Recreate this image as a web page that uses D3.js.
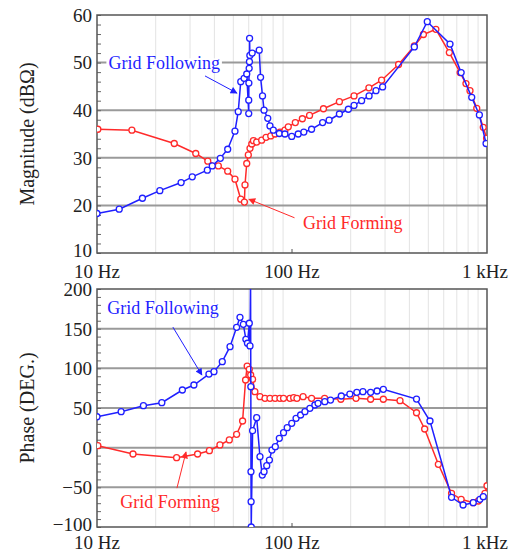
<!DOCTYPE html>
<html>
<head>
<meta charset="utf-8">
<script src="https://cdn.jsdelivr.net/npm/d3@7"></script>
<style>
  body { margin: 0; background: #fff; }
  text { font-family: "Liberation Serif", "Times New Roman", serif; }
</style>
</head>
<body>
<div class="chart"></div>
<script>
// Bode plot data (frequency in Hz)
var magFollowFreq = [10, 13.0, 17.1, 21.0, 27.0, 30.8, 36.8, 39.0, 42.9, 46.8, 51.0, 53.0, 54.6, 56.8, 58.6, 60.0, 60.0, 60.1, 60.3, 60.5, 60.6, 60.8, 62.5, 67.9, 69.0, 70.6, 71.9, 75.1, 77.1, 80.2, 86.1, 92.0, 99.7, 107.6, 115, 126, 143.6, 155, 175, 194.5, 208, 227.5, 248.5, 269.6, 291.5, 424, 494, 646, 737, 835, 914, 989];
var magFollow = [18.3, 19.2, 21.5, 23.1, 24.8, 26.0, 27.4, 28.3, 29.9, 31.8, 35.6, 39.7, 46.0, 46.7, 47.6, 39.3, 42.1, 45.7, 48.8, 50.2, 55.1, 51.5, 52.0, 52.6, 46.9, 43.0, 40.0, 38.3, 36.7, 35.8, 35.1, 35.0, 34.5, 35.0, 35.4, 36.0, 37.4, 37.9, 39.2, 40.2, 41.0, 42.0, 43.0, 44.1, 44.9, 53.3, 58.6, 53.9, 47.9, 42.7, 39.0, 33.0];

var magFormFreq = [10.1, 15.1, 24.9, 32.1, 37.0, 41.9, 46.8, 51.0, 54.6, 57.0, 57.4, 58.6, 59.7, 60.9, 62.2, 63.4, 65.9, 69.9, 73.6, 77.8, 81.9, 86.7, 92.0, 95.7, 104, 113, 123, 145, 175, 208, 248, 288, 352, 424, 472, 547, 641, 728, 780, 818, 886, 957, 995];
var magForm = [36.0, 35.8, 33.0, 30.9, 29.3, 28.3, 27.2, 25.5, 21.3, 20.7, 24.3, 28.8, 30.6, 32.0, 32.9, 33.6, 33.3, 33.7, 34.3, 34.6, 35.0, 35.4, 35.8, 36.5, 37.4, 38.2, 38.9, 40.3, 41.8, 43.0, 44.7, 46.3, 49.6, 53.5, 55.9, 57.0, 52.1, 47.9, 45.6, 44.1, 40.4, 36.4, 34.1];

var phFollowFreq = [10, 13.3, 17.3, 21.5, 27.4, 31.4, 37.5, 39.8, 43.9, 48.1, 52.0, 54.1, 56.3, 58.0, 59.1, 60.4, 60.9, 61.3, 61.5, 61.6, 61.7, 61.8, 62.8, 65.9, 68.5, 70.4, 71.9, 74.2, 76.6, 78.9, 82.1, 86.1, 90.5, 94.5, 99.7, 104.9, 110.7, 116.5, 123.5, 131, 136, 147.3, 157.6, 179, 198, 215, 231, 253, 273, 294, 435, 510, 658, 754, 850, 920, 957];
var phFollow = [39.0, 45.4, 52.9, 56.7, 72.7, 79.0, 92.8, 95.8, 108.4, 127.3, 151.7, 164.3, 155.5, 136.6, 131.6, 156.8, 128.2, 215, 76.9, -30.3, -68.1, -100, 21.4, 37.8, -11.4, -34.5, -30.3, -22.7, -15.6, -3.0, 1.2, 11.8, 18.9, 25.2, 30.7, 37.0, 41.2, 45.4, 49.6, 53.8, 55.9, 58.0, 60.0, 65.1, 67.6, 69.8, 70.6, 69.8, 71.4, 73.6, 61.3, 33.6, -62.6, -72.3, -69.4, -65.1, -61.8];

var phFormFreq = [10.1, 15.3, 25.6, 32.8, 37.7, 42.7, 47.7, 52.0, 55.8, 57.8, 58.9, 60.4, 61.4, 62.8, 64.5, 68.5, 72.7, 77.1, 81.9, 86.7, 90.5, 97.6, 102, 106, 114, 126, 147, 178, 213, 253, 294, 358, 435, 479, 563, 658, 737, 850, 903, 976, 1000];
var phForm = [2.5, -8.0, -12.6, -8.0, -3.8, 3.4, 9.7, 16.8, 33.6, 85.3, 102.8, 98.8, 91.6, 86.2, 70.6, 64.3, 62.2, 62.2, 62.2, 62.2, 62.2, 62.2, 63.0, 62.2, 64.3, 62.2, 62.2, 61.0, 62.2, 61.0, 61.0, 59.2, 44.0, 23.5, -21.0, -57.5, -65.1, -69.4, -67.2, -57.5, -48.0];

var magTicks = [10, 20, 30, 40, 50, 60];
var phaseTicks = [-100, -50, 0, 50, 100, 150, 200];
var freqTicks = [10, 100, 1000];
var freqLabels = ["10 Hz", "100 Hz", "1 kHz"];

var svgWidth = 517;
var svgHeight = 553;
var blue = "#1f1fff";
var red = "#ff2a2a";

var svg = d3.select(".chart")
  .append("svg")
  .attr("width", svgWidth)
  .attr("height", svgHeight);

var defs = svg.append("defs");
[["arrowBlue", blue], ["arrowRed", red]].forEach(function (m) {
  defs.append("marker")
    .attr("id", m[0])
    .attr("viewBox", "0 0 10 10")
    .attr("refX", 9)
    .attr("refY", 5)
    .attr("markerWidth", 9)
    .attr("markerHeight", 7)
    .attr("markerUnits", "userSpaceOnUse")
    .attr("orient", "auto")
    .append("path")
    .attr("d", "M0,0 L10,5 L0,10 z")
    .attr("fill", m[1]);
});

var xScale = d3.scaleLog().domain([10, 1000]).range([97, 487]);

function drawPanel(id, yScale, ticks, minorStep, title, labelGap, series, notes) {
  var top = yScale.range()[1], bottom = yScale.range()[0];
  var left = xScale.range()[0], right = xScale.range()[1];
  var g = svg.append("g");

  defs.append("clipPath").attr("id", id)
    .append("rect")
    .attr("x", left).attr("y", top)
    .attr("width", right - left).attr("height", bottom - top);

  // light vertical log grid
  var minor = [];
  [10, 100].forEach(function (d) {
    for (var k = 2; k < 10; k++) minor.push(d * k);
  });
  g.selectAll(".vgrid").data(minor).enter().append("line")
    .attr("x1", d => xScale(d)).attr("x2", d => xScale(d))
    .attr("y1", top).attr("y2", bottom)
    .attr("stroke", "#e3e3e3").attr("stroke-width", 1);

  // major horizontal grid
  g.selectAll(".hgrid").data(ticks.slice(1, -1)).enter().append("line")
    .attr("x1", left).attr("x2", right)
    .attr("y1", d => yScale(d)).attr("y2", d => yScale(d))
    .attr("stroke", "#9a9a9a").attr("stroke-width", 2);

  // small inward ticks on the left edge
  g.append("g")
    .attr("transform", `translate(${left},0)`)
    .call(d3.axisRight(yScale).ticks(Math.round((yScale.domain()[1] - yScale.domain()[0]) / minorStep)).tickSize(4).tickFormat(""))
    .call(a => a.select(".domain").remove())
    .selectAll("line").attr("stroke", "#666");

  // tick at 100 Hz
  g.append("line")
    .attr("x1", xScale(100)).attr("x2", xScale(100))
    .attr("y1", bottom).attr("y2", bottom - 4)
    .attr("stroke", "#555");

  // frame
  g.append("rect")
    .attr("x", left).attr("y", top)
    .attr("width", right - left).attr("height", bottom - top)
    .attr("fill", "none").attr("stroke", "#555").attr("stroke-width", 1.5);

  // y tick labels
  g.selectAll(".ylab").data(ticks).enter().append("text")
    .attr("x", left - 5).attr("y", d => yScale(d))
    .attr("dy", (d, i) => i == 0 ? "0.2em" : "0.36em")
    .attr("text-anchor", "end")
    .attr("font-size", 19)
    .attr("fill", "#222")
    .text(d => d < 0 ? "\u2212" + Math.abs(d) : d);

  // x tick labels
  g.selectAll(".xlab").data(freqTicks).enter().append("text")
    .attr("x", (d, i) => xScale(d) + (i == 2 ? -2 : 0)).attr("y", bottom + labelGap)
    .attr("text-anchor", "middle")
    .attr("font-size", 19)
    .attr("fill", "#222")
    .text((d, i) => freqLabels[i]);

  // axis title
  g.append("text")
    .attr("transform", `translate(${left - 70},${(top + bottom) / 2}) rotate(-90)`)
    .attr("dy", "0.35em")
    .attr("text-anchor", "middle")
    .attr("font-size", 20)
    .attr("fill", "#222")
    .text(title);

  // data
  var plot = g.append("g").attr("clip-path", `url(#${id})`);
  series.forEach(function (s) {
    var pts = s.freq.map((f, i) => [f, s.vals[i]]);
    plot.append("path")
      .datum(pts)
      .attr("fill", "none")
      .attr("stroke", s.color)
      .attr("stroke-width", 1.5)
      .attr("d", d3.line().x(d => xScale(d[0])).y(d => yScale(d[1])));
    plot.selectAll(null).data(pts).enter().append("circle")
      .attr("cx", d => xScale(d[0])).attr("cy", d => yScale(d[1]))
      .attr("r", 3)
      .attr("fill", "#fff")
      .attr("stroke", s.color)
      .attr("stroke-width", 1.3);
  });

  // annotations
  notes.forEach(function (n) {
    g.append("line")
      .attr("x1", xScale(n.from[0])).attr("y1", yScale(n.from[1]))
      .attr("x2", xScale(n.to[0])).attr("y2", yScale(n.to[1]))
      .attr("stroke", n.color).attr("stroke-width", 1)
      .attr("marker-end", `url(#${n.marker})`);
    var t = g.append("text")
      .attr("x", xScale(n.at[0])).attr("y", yScale(n.at[1]))
      .attr("dy", "0.35em")
      .attr("text-anchor", "middle")
      .attr("font-size", 18)
      .attr("fill", n.color)
      .text(n.label);
    var bb = t.node().getBBox();
    g.insert("rect", function () { return t.node(); })
      .attr("x", bb.x - 2).attr("y", bb.y + 5)
      .attr("width", bb.width + 4).attr("height", bb.height - 9)
      .attr("fill", "#fff");
  });
}

drawPanel("clipMag", d3.scaleLinear().domain([10, 60]).range([253, 15]), magTicks, 2, "Magnitude (dB\u03A9)", 25,
  [{ freq: magFormFreq, vals: magForm, color: red },
   { freq: magFollowFreq, vals: magFollow, color: blue }],
  [{ label: "Grid Following", at: [22.1, 49.9], from: [35.8, 47.2], to: [52.2, 43.6], color: blue, marker: "arrowBlue" },
   { label: "Grid Forming", at: [205, 16.4], from: [103, 17.4], to: [60.1, 21.3], color: red, marker: "arrowRed" }]);

drawPanel("clipPhase", d3.scaleLinear().domain([-100, 200]).range([527, 289]), phaseTicks, 12.5, "Phase (DEG.)", 22,
  [{ freq: phFormFreq, vals: phForm, color: red },
   { freq: phFollowFreq, vals: phFollow, color: blue }],
  [{ label: "Grid Following", at: [21.8, 176], from: [24.5, 152], to: [34.5, 91.6], color: blue, marker: "arrowBlue" },
   { label: "Grid Forming", at: [23.7, -68.5], from: [25.7, -51], to: [28.6, -5.5], color: red, marker: "arrowRed" }]);
</script>
</body>
</html>
